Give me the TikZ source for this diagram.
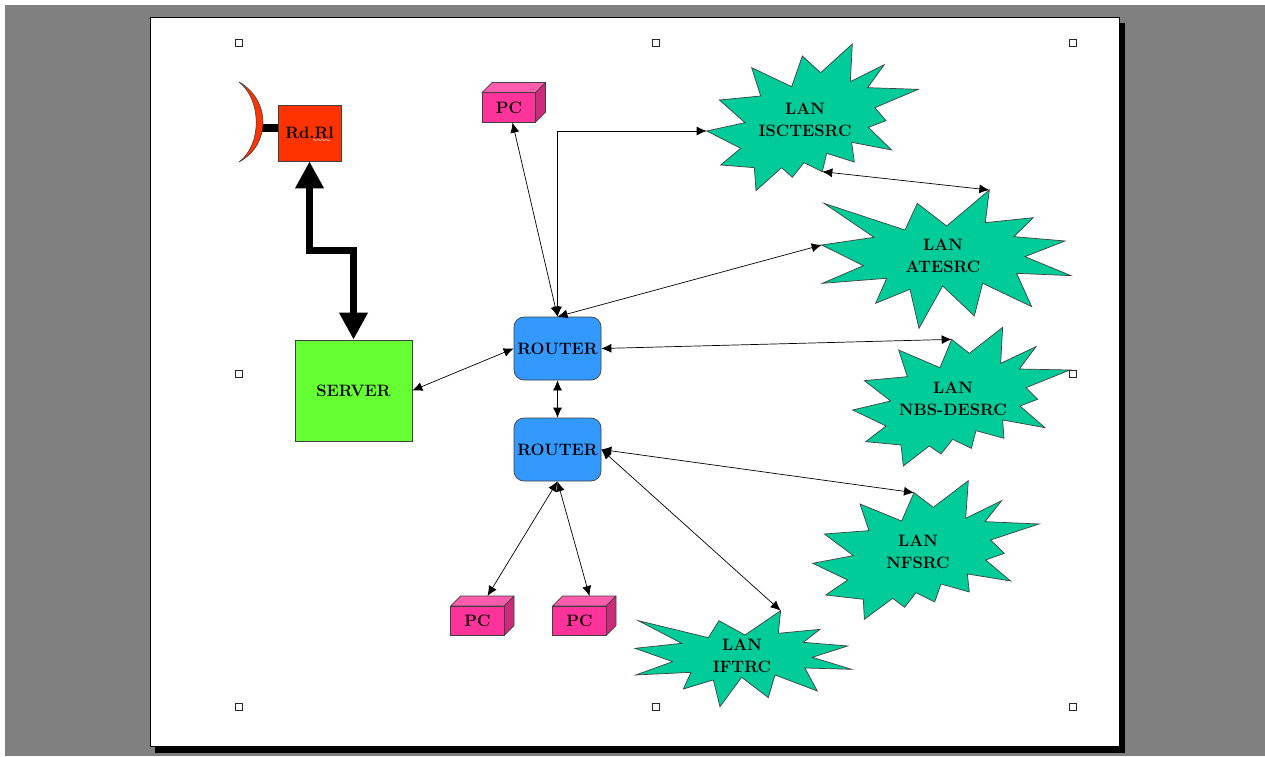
\documentclass[tikz,border=0pt]{standalone}
\usepackage{xcolor}
\usepackage{tikz}
\usetikzlibrary{arrows.meta,decorations.pathmorphing}
\definecolor{langreen}{HTML}{00CC99}
\definecolor{pcpink}{HTML}{FF3399}
\definecolor{pctop}{HTML}{FF5CAD}
\definecolor{pcside}{HTML}{CC2A7A}
\definecolor{routerblue}{HTML}{3399FF}
\definecolor{servergreen}{HTML}{66FF33}
\definecolor{radiored}{HTML}{FF3300}
\newcommand{\labelfont}{\fontsize{16.5}{22}\selectfont\bfseries}
\tikzstyle{lan}=[draw=black!75, fill=langreen, line width=.7pt, line join=miter]
\tikzstyle{lantext}=[draw=none, inner sep=0mm, align=center, font=\labelfont]
\tikzstyle{router}=[draw=black!75, fill=routerblue, rounded corners=10pt, inner sep=0mm, minimum width=87pt, minimum height=63pt, font=\labelfont, line width=.7pt]
\tikzstyle{box}=[draw=black!75, inner sep=0mm, font=\labelfont, line width=.7pt]
\tikzstyle{face}=[draw=black!75, line width=.7pt, line join=round]
\tikzstyle{handle}=[draw=black!85, fill=white, inner sep=0mm, minimum size=6.5pt, line width=.8pt]
\tikzstyle{link}=[{Latex[length=10pt,width=9pt]}-{Latex[length=10pt,width=9pt]}, line width=.7pt]
\tikzstyle{radio}=[{Triangle[length=27pt,width=27pt]}-{Triangle[length=27pt,width=27pt]}, line width=7.5pt]

\begin{document}
\begin{tikzpicture}[x=1pt, y=-1pt]
\useasboundingbox (0,0) rectangle (1265,756);
% window and page
\fill[white] (0,0) rectangle (1265,756);
\fill[black!50] (5,5) rectangle (1265,756);
\fill[black] (155,23) rectangle (1124.5,752.5);
\draw[fill=white, line width=.8pt] (150,17.5) rectangle (1119,746.5);
% LAN clouds
\draw[lan, shift={(700,30)}, scale=.3333] (20,303) coordinate (iscW) -- (135,278) -- (58,210) -- (182,198) -- (155,113) -- (275,170) -- (307,78) -- (362,128) -- (457,42) -- (451,155) -- (553,104) -- (503,173) -- (655,178) -- (525,233) -- (558,272) -- (505,292) -- (575,360) -- (455,337) -- (463,396) -- (380,370) -- (367,425) coordinate (iscS) -- (312,398) -- (277,442) -- (245,413) -- (168,482) -- (163,413) -- (62,405) -- (122,355) -- cycle;
\draw[lan, shift={(700,30)}, scale=.3333] (365,645) coordinate (ateW) -- (522,622) -- (372,520) -- (615,600) -- (652,520) -- (740,588) -- (868,480) coordinate (ateN) -- (856,578) -- (1000,563) -- (942,620) -- (1095,633) -- (975,680) -- (1113,737) -- (950,730) -- (995,830) -- (848,760) -- (823,858) -- (728,768) -- (657,895) -- (630,778) -- (527,820) -- (560,745) -- (367,760) -- (490,707) -- cycle;
\draw[lan, shift={(800,320)}, scale=.3333] (158,270) -- (272,243) -- (193,182) -- (322,170) -- (296,90) -- (420,143) -- (455,58) coordinate (nbsN) -- (508,100) -- (608,22) -- (602,130) -- (708,80) -- (658,147) -- (810,150) -- (678,203) -- (713,238) -- (660,258) -- (735,323) -- (608,300) -- (612,355) -- (528,332) -- (514,385) -- (458,358) -- (423,402) -- (388,378) -- (310,438) -- (303,375) -- (197,365) -- (258,318) -- cycle;
\draw[lan, shift={(800,320)}, scale=.3333] (38,730) -- (160,707) -- (73,642) -- (207,632) -- (180,552) -- (305,603) -- (342,518) coordinate (nfsN) -- (400,562) -- (505,482) -- (497,595) -- (605,542) -- (555,605) -- (717,612) -- (572,660) -- (613,700) -- (557,720) -- (632,783) -- (502,762) -- (508,816) -- (423,792) -- (404,846) -- (348,818) -- (314,862) -- (278,835) -- (193,898) -- (190,838) -- (77,825) -- (143,780) -- cycle;
\draw[lan, shift={(430,470)}, scale=.3333] (615,535) -- (755,520) -- (625,452) -- (835,503) -- (867,452) -- (945,495) -- (1052,422) coordinate (iftN) -- (1045,490) -- (1170,478) -- (1120,517) -- (1253,528) -- (1147,562) -- (1265,598) -- (1125,594) -- (1162,663) -- (1035,615) -- (1015,683) -- (935,622) -- (870,710) -- (850,630) -- (760,657) -- (783,607) -- (617,615) -- (728,575) -- cycle;
\foreach \n/\x/\y/\t in {isc/805/120/ISCTESRC, ate/943/256/ATESRC, nbs/953/399/NBS-DESRC, nfs/918/552/NFSRC, ift/742/656/IFTRC}
  \node[lantext] (lan\n) at (\x, \y) {LAN\\\t};
% PCs
\foreach \n/\x/\y in {top/509/107.5, left/477.5/621, right/579.5/621} {
  \draw[face, fill=pctop] (\x-27, \y-15) -- ++(10,-10) -- ++(53.5,0) -- ++(-10,10) -- cycle;
  \draw[face, fill=pcside] (\x+26.5, \y-15) -- ++(10,-10) -- ++(0,29.5) -- ++(-10,10) -- cycle;
  \node[box, fill=pcpink, minimum width=53.5pt, minimum height=29.5pt] (pc\n) at (\x, \y) {PC};
  \coordinate (back\n) at (\x+10, \y-25);
}
% routers, server, radio
\node[router] (router1) at (557.5, 348.5) {ROUTER};
\node[router] (router2) at (557.5, 449.5) {ROUTER};
\node[box, fill=servergreen, minimum width=117pt, minimum height=101pt] (server) at (353.5, 390.5) {SERVER};
\draw[line width=7.5pt] (262,128) -- (278,128);
\draw[fill=radiored, draw=black!75, line width=.6pt] (239,82) .. controls (271,100) and (271,145) .. (239,162) .. controls (262,145) and (262,100) .. (239,82) -- cycle;
\node[box, fill=radiored, minimum width=63pt, minimum height=56pt] (radio) at (309.5, 133) {Rd.Rl};
\draw[white!80!black, line width=.5pt, decorate, decoration={snake, amplitude=.8pt, segment length=4pt}] (313,140) -- (330,140);
% connectors
\draw[radio] (radio.south) -- ++(0,89) -| (server.north);
\foreach \f/\t in {pctop/router1.north, router1.north/ateW, router1.east/nbsN, server.east/router1.west, router1.south/router2.north, router2.east/nfsN, router2.east/iftN, router2.south/backleft, router2.south/backright, iscS/ateN}
  \draw[link] (\f) -- (\t);
\draw[link] (router1.north) |- (iscW);
% selection handles
\foreach \n/\x/\y in {a/239/43, b/656/43, c/1073/43, d/239/374, e/1073/374, f/239/707, g/656/707, h/1073/707}
  \node[handle] (handle\n) at (\x, \y) {};
\end{tikzpicture}
\end{document}
